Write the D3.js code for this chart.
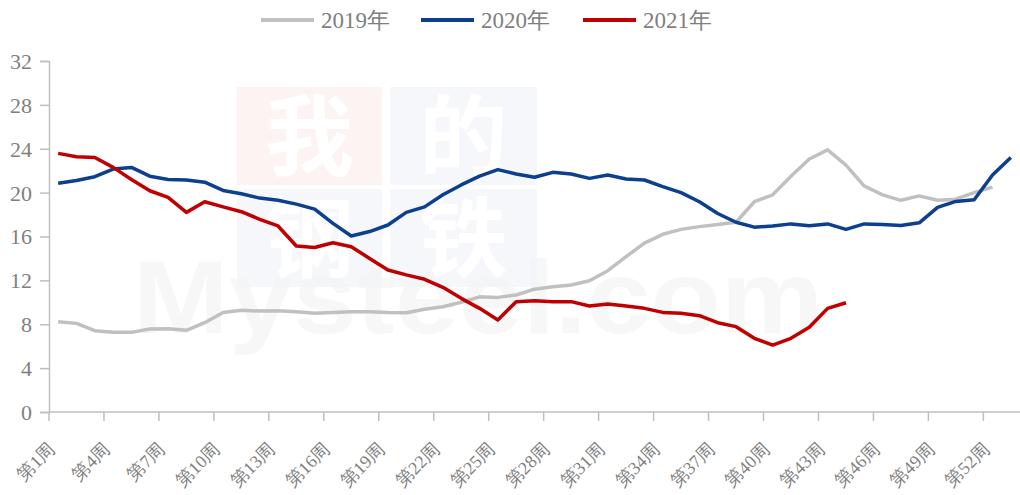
<!DOCTYPE html>
<html>
<head>
<meta charset="utf-8">
<script src="https://cdn.jsdelivr.net/npm/d3@7"></script>
<style>
    body { margin: 0; background: #fff; }
</style>
</head>
<body>
<svg id="chart" width="1020" height="495"></svg>
<script>
// weeks 1..53
const weeks = d3.range(1, 54).map(w => "第" + w + "周");

const series2019 = [8.23, 8.08, 7.41, 7.26, 7.26, 7.57, 7.6, 7.45, 8.14, 9.08,
    9.27, 9.2, 9.22, 9.15, 9.0, 9.08, 9.15, 9.15, 9.08, 9.05,
    9.36, 9.6, 10.0, 10.5, 10.45, 10.67, 11.2, 11.42, 11.58, 11.97,
    12.88, 14.16, 15.4, 16.2, 16.65, 16.9, 17.1, 17.3, 19.17, 19.8,
    21.5, 23.06, 23.9, 22.5, 20.6, 19.8, 19.3, 19.7, 19.3, 19.4,
    20.0, 20.5];

const series2020 = [20.85, 21.1, 21.45, 22.15, 22.3, 21.5, 21.2, 21.15, 20.95, 20.2,
    19.9, 19.5, 19.3, 18.95, 18.5, 17.2, 16.05, 16.45, 17.05, 18.2,
    18.7, 19.8, 20.7, 21.5, 22.1, 21.7, 21.4, 21.85, 21.7, 21.3,
    21.6, 21.25, 21.15, 20.55, 20.0, 19.17, 18.1, 17.3, 16.85, 16.95,
    17.15, 16.99, 17.15, 16.65, 17.15, 17.1, 17.0, 17.25, 18.65, 19.2,
    19.35, 21.6, 23.2];

const series2021 = [23.58, 23.27, 23.2, 22.3, 21.2, 20.17, 19.57, 18.2, 19.17, 18.7,
    18.26, 17.57, 16.96, 15.13, 15.0, 15.43, 15.07, 14.0, 12.94, 12.5,
    12.1, 11.37, 10.36, 9.45, 8.39, 10.06, 10.15, 10.06, 10.06, 9.66,
    9.85, 9.66, 9.45, 9.08, 9.0, 8.78, 8.14, 7.78, 6.72, 6.1,
    6.72, 7.72, 9.45, 9.96];

const yTicks = [0, 4, 8, 12, 16, 20, 24, 28, 32];

const seriesList = [
    { name: "2019年", values: series2019, color: "#c0c0c0" },
    { name: "2020年", values: series2020, color: "#0c3f8d" },
    { name: "2021年", values: series2021, color: "#c00000" }
];

const FONT = "'Liberation Serif', 'Times New Roman', Times, serif";
const TEXT_COLOR = "#7f7f7f";

const svg = d3.select("#chart");
const margin = { left: 49, right: 0, top: 61, bottom: 83 };
const width = 1020 - margin.left - margin.right;
const height = 495 - margin.top - margin.bottom;

/**
 * Faint watermark behind the plot
 */
function drawWatermark(){
    let wm = svg.append("g");
    let boxes = [
        { x: 237, y: 87, w: 145, h: 98, fill: "#fdf3f2", ch: "我" },
        { x: 390, y: 87, w: 147, h: 98, fill: "#f5f7fa", ch: "的" },
        { x: 237, y: 189, w: 145, h: 98, fill: "#f5f7fa", ch: "钢" },
        { x: 390, y: 189, w: 147, h: 98, fill: "#f5f7fa", ch: "铁" }
    ];
    for(let b of boxes){
        wm.append("rect").attr("x", b.x).attr("y", b.y)
            .attr("width", b.w).attr("height", b.h).attr("fill", b.fill);
        wm.append("text").attr("x", b.x + b.w / 2).attr("y", b.y + b.h / 2 + 32)
            .attr("text-anchor", "middle")
            .style("font-family", "'Noto Sans CJK SC', sans-serif")
            .style("font-weight", "bold").style("font-size", "88px")
            .style("fill", "#ffffff")
            .text(b.ch);
    }
    wm.append("text").attr("x", 133).attr("y", 333)
        .attr("textLength", 690).attr("lengthAdjust", "spacingAndGlyphs")
        .style("font-family", "'Liberation Sans', Arial, sans-serif")
        .style("font-weight", "bold").style("font-size", "104px")
        .style("fill", "#f3f3f3").style("fill-opacity", 0.7)
        .text("Mysteel.com");
}
drawWatermark();

const g = svg.append("g").attr("transform", `translate(${margin.left},${margin.top})`);

const x = d3.scaleBand().domain(weeks).range([0, width]);
const y = d3.scaleLinear().domain([0, 32]).range([height, 0]);

// y axis
const yAxis = g.append("g")
    .call(d3.axisLeft(y).tickValues(yTicks).tickSize(9).tickPadding(8).tickFormat(d3.format("d")));
yAxis.select(".domain").attr("stroke", "#bfbfbf").attr("stroke-width", 1.5);
yAxis.selectAll(".tick line").attr("stroke", "#bfbfbf").attr("stroke-width", 1.5);
yAxis.selectAll("text")
    .style("font-family", FONT).style("font-size", "22px")
    .attr("fill", TEXT_COLOR).attr("dy", "0.34em");

// x axis: ticks at every third category boundary
const xAxisG = g.append("g").attr("transform", `translate(0,${height})`);
xAxisG.append("line").attr("x1", 0).attr("x2", width)
    .attr("stroke", "#bfbfbf").attr("stroke-width", 1.5);
const tickIdx = d3.range(0, weeks.length, 3);
xAxisG.selectAll(".xtick").data(tickIdx).join("line")
    .attr("class", "xtick")
    .attr("x1", i => x(weeks[i])).attr("x2", i => x(weeks[i]))
    .attr("y1", 0).attr("y2", 9)
    .attr("stroke", "#bfbfbf").attr("stroke-width", 1.5);
xAxisG.selectAll(".xlabel").data(tickIdx).join("text")
    .attr("class", "xlabel")
    .attr("transform", i => `translate(${x(weeks[i]) + x.bandwidth() / 2 - 2},${38}) rotate(-45)`)
    .attr("text-anchor", "end")
    .attr("fill", TEXT_COLOR)
    .style("font-family", FONT)
    .style("font-size", "18px")
    .text(i => weeks[i]);

// lines
const line = d3.line()
    .x((d, i) => x(weeks[i]) + x.bandwidth() / 2)
    .y(d => y(d));

for(let s of seriesList){
    g.append("path")
        .attr("d", line(s.values))
        .attr("fill", "none")
        .attr("stroke", s.color)
        .attr("stroke-width", 3.5)
        .attr("stroke-linejoin", "round");
}

// legend
const legendX = [261, 421, 583];
const legend = svg.append("g");
seriesList.forEach((s, i) => {
    legend.append("line")
        .attr("x1", legendX[i]).attr("x2", legendX[i] + 53)
        .attr("y1", 20).attr("y2", 20)
        .attr("stroke", s.color).attr("stroke-width", 4);
    legend.append("text")
        .attr("x", legendX[i] + 60).attr("y", 28)
        .attr("fill", TEXT_COLOR)
        .style("font-family", FONT)
        .style("font-size", "23px")
        .text(s.name);
});
</script>
</body>
</html>
